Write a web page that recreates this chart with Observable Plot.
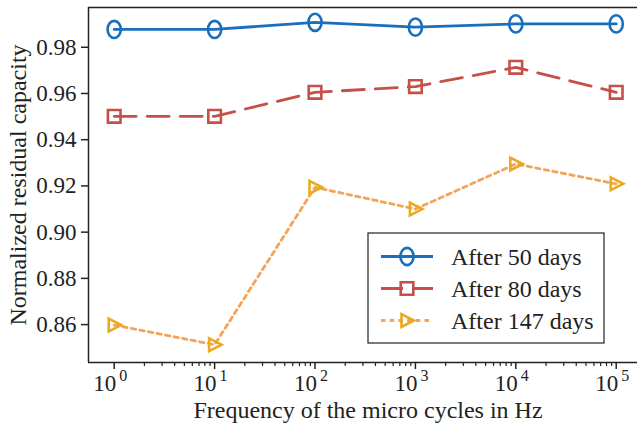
<!DOCTYPE html>
<html><head><meta charset="utf-8">
<script src="https://cdn.jsdelivr.net/npm/d3@7"></script>
<script src="https://cdn.jsdelivr.net/npm/@observablehq/plot@0.6"></script>
<style>body{margin:0;background:#fff} #chart svg{display:block}</style>
</head><body><div id="chart"></div>
<script>
// ---- data ----
const freqs = [1, 10, 100, 1000, 10000, 100000];
const xExponents = [0, 1, 2, 3, 4, 5];
const after50 = [0.9877, 0.9877, 0.9908, 0.9887, 0.9901, 0.9901];
const after80 = [0.9501, 0.9501, 0.9605, 0.9630, 0.9713, 0.9605];
const after147 = [0.8598, 0.8513, 0.9194, 0.9100, 0.9295, 0.9209];
const seriesNames = ["After 50 days", "After 80 days", "After 147 days"];
const yTicks = [0.86, 0.88, 0.90, 0.92, 0.94, 0.96, 0.98];
const xLabel = "Frequency of the micro cycles in Hz";
const yLabel = "Normalized residual capacity";

// ---- symbols ----
const ellipse = {draw(ctx) {
  const rx = 6.6, ry = 8.6, k = 0.5523;
  ctx.moveTo(rx, 0);
  ctx.bezierCurveTo(rx, ry * k, rx * k, ry, 0, ry);
  ctx.bezierCurveTo(-rx * k, ry, -rx, ry * k, -rx, 0);
  ctx.bezierCurveTo(-rx, -ry * k, -rx * k, -ry, 0, -ry);
  ctx.bezierCurveTo(rx * k, -ry, rx, -ry * k, rx, 0);
  ctx.closePath();
}};
const square = {draw(ctx) {
  const h = 6.3;
  ctx.moveTo(-h, -h); ctx.lineTo(h, -h); ctx.lineTo(h, h); ctx.lineTo(-h, h); ctx.closePath();
}};
const triRight = {draw(ctx) {
  ctx.moveTo(-5.5, -6.4); ctx.lineTo(7, 0); ctx.lineTo(-5.5, 6.4); ctx.closePath();
}};

const series = [
  {name: seriesNames[0], values: after50, line: "#1a6fbd", marker: "#1a6fbd", dash: null, symbol: ellipse},
  {name: seriesNames[1], values: after80, line: "#c5504a", marker: "#c5504a", dash: "22,11", symbol: square},
  {name: seriesNames[2], values: after147, line: "#f4a35a", marker: "#e9aa1f", dash: "4.5,4.2", symbol: triRight}
];
const rows = series.flatMap(s => s.values.map((v, i) => ({freq: freqs[i], value: v, series: s.name})));

const xDomain = [10 ** -0.256, 10 ** 5.212];
const yDomain = [0.8436, 0.9972];
const minors = [];
for (let k = 0; k < 5; k++) for (let m = 2; m <= 9; m++) minors.push(m * 10 ** k);

const font = "'Liberation Serif', 'Times New Roman', serif";
const ink = "#222";

const marks = [
  Plot.ruleX([xDomain[0]], {stroke: ink, strokeWidth: 1.5}),
  Plot.ruleY([yDomain[0], yDomain[1]], {stroke: ink, strokeWidth: 1.5}),
  Plot.axisY({ticks: yTicks, tickFormat: d3.format(".2f"), tickSize: 7, tickPadding: 5, strokeWidth: 1.5, fontSize: 23, label: null}),
  // major and minor x ticks (tick-only rules hanging below the frame)
  Plot.ruleX(freqs, {x: d => d, y1: yDomain[0], y2: yDomain[0], insetBottom: -7, stroke: ink, strokeWidth: 1.5}),
  Plot.ruleX(minors, {x: d => d, y1: yDomain[0], y2: yDomain[0], insetBottom: -4, stroke: ink, strokeWidth: 1.2}),
  Plot.text(xExponents, {x: d => 10 ** d, text: () => "10", frameAnchor: "bottom", textAnchor: "end", lineAnchor: "bottom", dx: 2, dy: 28, fontSize: 23, fill: ink}),
  Plot.text(xExponents, {x: d => 10 ** d, text: d => String(d), frameAnchor: "bottom", textAnchor: "start", lineAnchor: "bottom", dx: 5, dy: 18, fontSize: 16, fill: ink}),
  Plot.text([yLabel], {frameAnchor: "left", rotate: -90, dx: -70, textAnchor: "middle", lineAnchor: "middle", fontSize: 24, fill: ink}),
  Plot.text([xLabel], {frameAnchor: "bottom", lineAnchor: "bottom", dx: 5, dy: 55, fontSize: 24, fill: ink})
];
for (const s of series) {
  const data = rows.filter(r => r.series === s.name);
  marks.push(Plot.line(data, {x: "freq", y: "value", stroke: s.line, strokeWidth: 2.8, strokeDasharray: s.dash}));
}
for (const s of series) {
  const data = rows.filter(r => r.series === s.name);
  marks.push(Plot.dot(data, {x: "freq", y: "value", symbol: s.symbol, r: 7, stroke: s.marker, strokeWidth: 2.6, fill: "none"}));
}

const chart = Plot.plot({
  width: 637, height: 424,
  marginLeft: 88, marginRight: 0, marginTop: 7, marginBottom: 62,
  style: {fontFamily: font, fontSize: "23px", background: "white", color: ink, overflow: "visible"},
  x: {type: "log", domain: xDomain, axis: null},
  y: {domain: yDomain},
  marks
});

// ---- legend ----
const svg = d3.select(chart);
const lg = svg.append("g").attr("text-anchor", "start");
lg.append("rect").attr("x", 368).attr("y", 233).attr("width", 236).attr("height", 110)
  .attr("fill", "white").attr("stroke", ink).attr("stroke-width", 1.2);
series.forEach((s, i) => {
  const y = 256.5 + i * 32;
  lg.append("line").attr("x1", 381).attr("x2", 433).attr("y1", y).attr("y2", y)
    .attr("stroke", s.line).attr("stroke-width", 2.8).attr("stroke-dasharray", s.dash);
  lg.append("path").attr("d", d3.symbol(s.symbol)()).attr("transform", `translate(407,${y})`)
    .attr("fill", "none").attr("stroke", s.marker).attr("stroke-width", 2.6);
  lg.append("text").attr("x", 451).attr("y", y + 8.5).attr("font-family", font).attr("font-size", 24)
    .attr("text-anchor", "start").attr("fill", ink).text(s.name);
});

document.getElementById("chart").appendChild(chart);
</script></body></html>
